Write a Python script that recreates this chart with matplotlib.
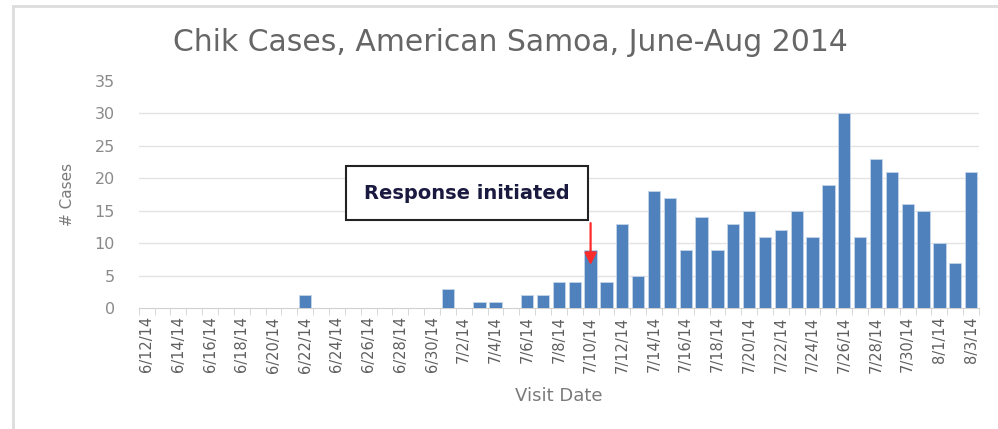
import datetime as dt
from matplotlib import pyplot as plt
from matplotlib.lines import Line2D

# daily visit dates 6/12/14 .. 8/3/14
start = dt.date(2014, 6, 12)
dates = [start + dt.timedelta(days=i) for i in range(53)]
date_labels = ["%d/%d/14" % (d.month, d.day) for d in dates]

june_cases = [0, 0, 0, 0, 0, 0, 0, 0, 0, 0, 2, 0, 0, 0, 0, 0, 0, 0, 0]  # 6/12-6/30
july_cases = [3, 0, 1, 1, 0, 2, 2, 4, 4, 9, 4, 13, 5, 18, 17, 9, 14, 9, 13,
              15, 11, 12, 15, 11, 19, 30, 11, 23, 21, 16, 15]  # 7/1-7/31
aug_cases = [10, 7, 21]  # 8/1-8/3
cases = june_cases + july_cases + aug_cases

title = "Chik Cases, American Samoa, June-Aug 2014"
note = "Response initiated"
note_day = "7/10/14"

plt.rcParams['font.family'] = ['DejaVu Sans']

fig = plt.figure(figsize=(9.98, 4.29), dpi=100)
ax = fig.add_axes([0.139, 0.282, 0.842, 0.530])

x = list(range(len(cases)))
ax.bar(x, cases, width=0.78, color="#4F81BD", edgecolor="#c5d5ea", linewidth=0.6, zorder=3)

ax.set_xlim(-0.5, len(cases) - 0.5)
ax.set_ylim(0, 35)
ax.set_yticks(range(0, 36, 5))
for v in range(5, 35, 5):
    ax.axhline(v, color="#e4e4e4", linewidth=1, zorder=1)

ax.set_xticks(x[::2])
ax.set_xticklabels(date_labels[::2], rotation=90, fontsize=10.5, color="#5f5f5f")
ax.set_xticks([i - 0.5 for i in range(len(cases) + 1)], minor=True)
ax.tick_params(axis="x", which="major", length=0, pad=6)
ax.tick_params(axis="x", which="minor", length=5, color="#d0d0d0")
ax.tick_params(axis="y", length=0, labelsize=11.5, labelcolor="#8a8a8a", pad=17)

for side in ["top", "right", "left"]:
    ax.spines[side].set_visible(False)
ax.spines["bottom"].set_color("#d0d0d0")

ax.set_ylabel("# Cases", fontsize=11, color="#7a7a7a", labelpad=14)
ax.set_xlabel("Visit Date", fontsize=13, color="#7a7a7a", labelpad=10)
fig.text(0.511, 0.902, title, ha="center", va="center", fontsize=21.5, color="#666666")

# response annotation
i = date_labels.index(note_day)
ax.annotate("", xy=(i, 6.2), xytext=(i, 13.5),
            arrowprops=dict(arrowstyle="-|>", color="#ff2a2a", lw=1.6, mutation_scale=18),
            zorder=5)
ax.text(20.2, 17.7, note, ha="center", va="center", fontsize=14, fontweight="bold",
        color="#1a1a40", zorder=6,
        bbox=dict(boxstyle="square,pad=0.92", facecolor="white", edgecolor="#222222", linewidth=1.5))

# outer chart border
fig.add_artist(Line2D([0.013, 0.013], [0.0, 0.985], color="#dddddd", linewidth=2))
fig.add_artist(Line2D([0.013, 1.0], [0.985, 0.985], color="#dddddd", linewidth=2))

fig.savefig("out.png", dpi=100)
